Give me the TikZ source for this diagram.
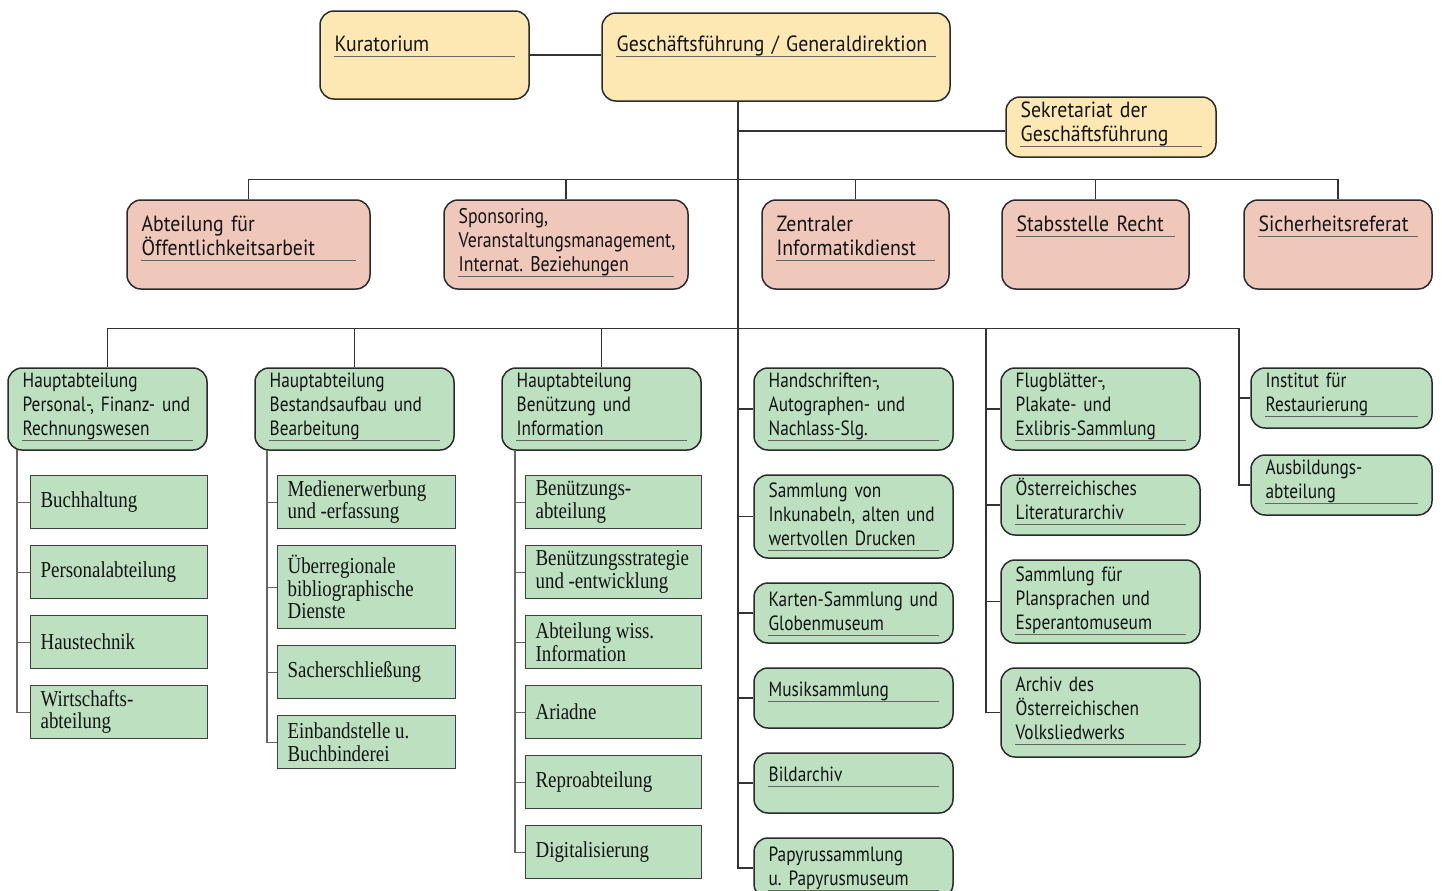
\documentclass[tikz,border=0pt]{standalone}
\usepackage{fontspec}
\setmainfont[FakeStretch=0.83]{Liberation Serif}
\newfontfamily\hsans[FakeStretch=0.84]{PT Sans}
\newfontfamily\hsansw[FakeStretch=0.9]{PT Sans}
\frenchspacing
\usetikzlibrary{fit,calc}
\definecolor{yel}{HTML}{FDE8B4}
\definecolor{pnk}{HTML}{F0C7BB}
\definecolor{grn}{HTML}{BDE0C1}
\definecolor{bord}{HTML}{2B2B2B}
\newcommand\ud{\rule[-2.6pt]{0pt}{2.6pt}}
\newcommand\sansfnt{\hsans\fontsize{10.3}{12}\selectfont}
\newcommand\sansmid{\hsans\fontsize{10.6}{12}\selectfont}
\newcommand\sansbig{\hsansw\fontsize{11}{12}\selectfont}
\newcommand\seriffnt{\fontsize{11.4}{11.2}\selectfont}
\newcommand\tsp{\kern0.2em\relax}
\tikzset{
  rbox/.style={draw=bord, line width=0.75pt, rounded corners=7pt, inner sep=0pt},
  txt/.style={font=\sansfnt, inner sep=0pt, align=left, anchor=base west, text=black!92},
  big/.style={font=\sansbig},
  mid/.style={font=\sansmid},
  uline/.style={draw=black!60, line width=0.5pt},
  sbx/.style={draw=black!75, line width=0.6pt, fill=grn, anchor=north west, inner ysep=0pt, inner xsep=5pt, align=left,
    font=\seriffnt, text=black!92},
  conn/.style={draw=black!80, line width=0.7pt},
  sconn/.style={draw=black!60, line width=0.6pt},
}
\newcommand\obox[9][]{%
  \node[rbox,fill=#3,fit={(#4,#5)(#6,#7)}] (#2) {};
  \pgfmathsetmacro\mytw{(#6-#4-29)/2}
  \node[txt,#1,text width=\mytw pt] (#2t) at ($(#2.north west)+(15,#8)$) {#9\ud};
  \draw[uline] (#2t.south west) -- (#2t.south east);
}
\newcommand\serbox[6]{%
  \pgfmathsetmacro\mytw{(#4-#2-20)/2}
  \pgfmathsetmacro\myth{(#5-#3)/2}
  \node[sbx,text width=\mytw pt,minimum height=\myth pt] (#1) at (#2,#3) {#6};
}
\begin{document}
\begin{tikzpicture}[x=0.5pt,y=-0.5pt]
\useasboundingbox (0,0) rectangle (1442,890);
\clip (0,0) rectangle (1442,890);
\fill[white] (0,0) rectangle (1442,890);
% top level
\obox[big]{kur}{yel}{320}{11}{529}{99}{41}{Kuratorium}
\obox[big]{gf}{yel}{602}{13}{950}{101}{39}{Geschäftsführung / Generaldirektion}
\obox[big]{sek}{yel}{1006}{97}{1216}{157}{21}{Sekretariat der\\Geschäftsführung}
% staff units
\obox[big]{p1}{pnk}{127}{200}{370}{289}{32}{Abteilung für\\Öffentlichkeitsarbeit}
\obox[mid]{p2}{pnk}{444}{200}{688}{289}{24}{Sponsoring,\\Veranstaltungsmanagement,\\Internat. Beziehungen}
\obox[big]{p3}{pnk}{762}{200}{949}{289}{32}{Zentraler\\Informatikdienst}
\obox[big]{p4}{pnk}{1002}{200}{1189}{289}{32}{Stabsstelle Recht}
\obox[big]{p5}{pnk}{1244}{200}{1432}{289}{32}{Sicherheitsreferat}
% main departments
\obox{h1}{grn}{8}{368}{207}{450}{20}{Hauptabteilung\\Personal-, Finanz- und\\Rechnungswesen}
\obox{h2}{grn}{255}{368}{454}{450}{20}{Hauptabteilung\\Bestandsaufbau und\\Bearbeitung}
\obox{h3}{grn}{502}{368}{701}{450}{20}{Hauptabteilung\\Benützung und\\Information}
\obox{k1}{grn}{754}{368}{953}{450}{20}{Handschriften-,\\Autographen- und\\Nachlass-Slg.}
\obox{k2}{grn}{754}{475}{953}{558}{23}{Sammlung von\\Inkunabeln, alten und\\wertvollen Drucken}
\obox{k3}{grn}{754}{583}{953}{643}{24}{Karten-Sammlung und\\Globenmuseum}
\obox{k4}{grn}{754}{668}{953}{728}{29}{Musiksammlung}
\obox{k5}{grn}{754}{753}{953}{813}{29}{Bildarchiv}
\obox{k6}{grn}{754}{838}{953}{898}{24}{Papyrussammlung\\u. Papyrusmuseum}
\obox{f1}{grn}{1001}{368}{1200}{450}{20}{Flugblätter-,\\Plakate- und\\Exlibris-Sammlung}
\obox{f2}{grn}{1001}{475}{1200}{535}{21}{Österreichisches\\Literaturarchiv}
\obox{f3}{grn}{1001}{560}{1200}{643}{22}{Sammlung für\\Plansprachen und\\Esperantomuseum}
\obox{f4}{grn}{1001}{668}{1200}{757}{24}{Archiv des\\Österreichischen\\Volksliedwerks}
\obox{i1}{grn}{1251}{368}{1432}{428}{20}{Institut für\\Restaurierung}
\obox{i2}{grn}{1251}{455}{1432}{515}{20}{Ausbildungs-\\abteilung}
% sub units
\serbox{s11}{30}{475}{207}{528}{Buchhaltung}
\serbox{s12}{30}{545}{207}{598}{Personalabteilung}
\serbox{s13}{30}{615}{207}{668}{Haustechnik}
\serbox{s14}{30}{685}{207}{738}{Wirtschafts-\\abteilung}
\serbox{s21}{277}{475}{455}{528}{Medienerwerbung\\und\tsp-erfassung}
\serbox{s22}{277}{545}{455}{628}{Überregionale\\bibliographische\\Dienste}
\serbox{s23}{277}{645}{455}{698}{Sacherschließung}
\serbox{s24}{277}{715}{455}{768}{Einbandstelle\tsp u.\\Buchbinderei}
\serbox{s31}{525}{475}{701}{528}{Benützungs-\\abteilung}
\serbox{s32}{525}{545}{701}{598}{Benützungsstrategie\\und\tsp-entwicklung}
\serbox{s33}{525}{615}{701}{668}{Abteilung\tsp wiss.\\Information}
\serbox{s34}{525}{685}{701}{738}{Ariadne}
\serbox{s35}{525}{755}{701}{808}{Reproabteilung}
\serbox{s36}{525}{825}{701}{878}{Digitalisierung}
% connectors
\coordinate (spine) at (738,101);
\coordinate (c5) at (986,329);
\coordinate (c6) at (1239,329);
\coordinate (c1) at (17,450);
\coordinate (c2) at (267,450);
\coordinate (c3) at (515,450);
\draw[conn] (kur.east) -- (kur.east -| gf.west);
\draw[conn] (spine) |- (k6.west);
\draw[conn] ([yshift=-2pt]sek.west) -- ([yshift=-2pt]sek.west -| spine);
\draw[conn] (p1.north) -- ++(0,-20) -| (p5.north);
\foreach \n in {p2,p3,p4} \draw[conn] (\n.north) -- ++(0,-20);
\draw[conn] (h1.north) -- ++(0,-39) -| (c6);
\foreach \n in {h2,h3} \draw[conn] (\n.north) -- ++(0,-39);
\foreach \n in {k1,k2,k3,k4,k5} \draw[conn] (\n.west -| spine) -- (\n.west);
\draw[conn] (c5) |- (f4.west);
\foreach \n in {f1,f2,f3} \draw[conn] (\n.west -| c5) -- (\n.west);
\draw[conn] (c6) |- (i2.west);
\draw[conn] (i1.west -| c6) -- (i1.west);
\draw[sconn] (c1) |- (s14.west);
\foreach \n in {s11,s12,s13} \draw[sconn] (\n.west -| c1) -- (\n.west);
\draw[sconn] (c2) |- (s24.west);
\foreach \n in {s21,s22,s23} \draw[sconn] (\n.west -| c2) -- (\n.west);
\draw[sconn] (c3) |- (s36.west);
\foreach \n in {s31,s32,s33,s34,s35} \draw[sconn] (\n.west -| c3) -- (\n.west);
\end{tikzpicture}
\end{document}
